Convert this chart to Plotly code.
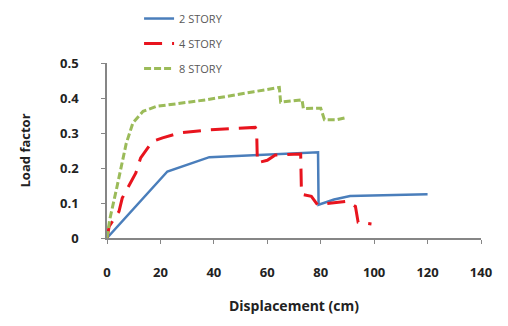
import plotly.graph_objects as go

# 2 STORY
x2 = [0, 22.6, 38.3, 79, 79.2, 85, 91, 120]
y2 = [0, 0.19, 0.231, 0.245, 0.095, 0.11, 0.12, 0.125]

# 4 STORY
x4 = [0, 0.8, 4.5, 5.7, 10.8, 12.6, 17, 20.8, 27, 38.3, 55.5, 56, 56.3, 60, 63, 72.5, 72.8, 76.5, 78.8, 85, 90, 93, 94, 99]
y4 = [0, 0.033, 0.076, 0.114, 0.186, 0.229, 0.276, 0.286, 0.3, 0.309, 0.316, 0.31, 0.215, 0.222, 0.237, 0.24, 0.125, 0.119, 0.095, 0.1, 0.105, 0.09, 0.045, 0.04]

# 8 STORY
x8 = [0, 1, 3.5, 5.3, 7.2, 9.7, 13.5, 18.5, 37.4, 55, 64.5, 65, 73, 73.5, 80, 81.4, 86, 90]
y8 = [0, 0.052, 0.138, 0.205, 0.27, 0.329, 0.362, 0.376, 0.395, 0.418, 0.43, 0.388, 0.395, 0.37, 0.371, 0.338, 0.338, 0.345]

xticks = [0, 20, 40, 60, 80, 100, 120, 140]
yticks = [0, 0.1, 0.2, 0.3, 0.4, 0.5]
ytick_text = ["0", "0.1", "0.2", "0.3", "0.4", "0.5"]

fig = go.Figure()
fig.add_trace(go.Scatter(x=x2, y=y2, mode="lines", name="2 STORY", legendgroup="a",
                         line=dict(color="#4A7EBB", width=2.5)))
fig.add_trace(go.Scatter(x=x4, y=y4, mode="lines", name="4 STORY", legendgroup="b",
                         line=dict(color="#E8141E", width=3, dash="18px,10px")))
fig.add_trace(go.Scatter(x=x8, y=y8, mode="lines", name="8 STORY", legendgroup="c",
                         line=dict(color="#9BBB59", width=3, dash="7px,3px")))

font_main = "Open Sans"
fig.update_layout(
    width=508, height=326,
    margin=dict(l=99, r=35, t=55, b=96, autoexpand=False),
    paper_bgcolor="white", plot_bgcolor="white",
    showlegend=True,
    legend=dict(xref="container", yref="paper", x=0.258, y=1.337, xanchor="left", yanchor="top",
                font=dict(family=font_main, size=11, color="#595959"),
                tracegroupgap=6, bgcolor="rgba(0,0,0,0)"),
    xaxis=dict(range=[0, 140], tickvals=xticks, showgrid=False, zeroline=False,
               showline=True, linecolor="#868686", linewidth=1.5,
               ticks="outside", ticklen=4, tickcolor="#868686",
               ticklabelstandoff=18,
               tickfont=dict(family=font_main, size=13, color="#222222", weight="bold"),
               title=dict(text="Displacement (cm)", standoff=21,
                          font=dict(family=font_main, size=14, color="#222222", weight="bold"))),
    yaxis=dict(range=[0, 0.5], tickvals=yticks, ticktext=ytick_text, showgrid=False, zeroline=False,
               showline=True, linecolor="#868686", linewidth=1.5,
               ticks="outside", ticklen=4, tickcolor="#868686",
               ticklabelstandoff=20,
               tickfont=dict(family=font_main, size=13, color="#222222", weight="bold")),
    annotations=[dict(text="Load factor", xref="paper", yref="paper", x=-0.2206, y=0.503,
                      xanchor="center", yanchor="middle", textangle=-90, showarrow=False,
                      font=dict(family=font_main, size=13, color="#222222", weight="bold"))],
)

fig.write_html("out.html")
